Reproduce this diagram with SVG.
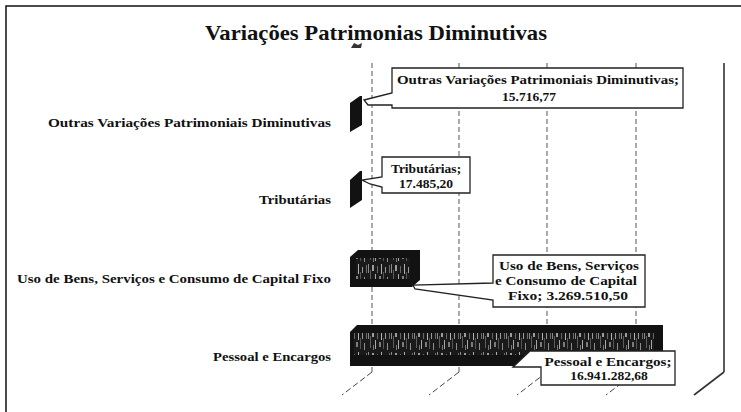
<svg xmlns="http://www.w3.org/2000/svg" width="741" height="412" viewBox="0 0 741 412">
  <defs>
    <pattern id="tex" width="23" height="22" patternUnits="userSpaceOnUse">
      <rect width="23" height="22" fill="#1a1a1a"/>
      <rect x="0" y="0" width="1" height="9" fill="#8a8a8a"/>
      <rect x="2" y="6" width="1" height="12" fill="#5e5e5e"/>
      <rect x="4" y="1" width="2" height="6" fill="#9c9c9c"/>
      <rect x="7" y="10" width="1" height="9" fill="#a8a8a8"/>
      <rect x="9" y="2" width="1" height="7" fill="#666"/>
      <rect x="11" y="12" width="2" height="5" fill="#7c7c7c"/>
      <rect x="13" y="0" width="1" height="10" fill="#b0b0b0"/>
      <rect x="15" y="8" width="1" height="11" fill="#555"/>
      <rect x="17" y="3" width="1" height="6" fill="#999"/>
      <rect x="19" y="13" width="1" height="7" fill="#8f8f8f"/>
      <rect x="21" y="1" width="1" height="8" fill="#6a6a6a"/>
      <rect x="5" y="15" width="1" height="5" fill="#777"/>
    </pattern>
    <style>
      text{font-family:'Liberation Serif','Times New Roman',serif;font-weight:bold;fill:#111}
      .frame{stroke:#111;stroke-width:1.5;fill:none}
      .grid{stroke:#555;stroke-width:1;stroke-dasharray:5 3;fill:none}
      .wall{stroke:#333;stroke-width:1.6;fill:none}
      .floor{stroke:#444;stroke-width:1;stroke-dasharray:6 3;fill:none}
      .bar{fill:#121212}
      .cat{font-size:13px;text-anchor:end}
      .lbl{font-size:13.5px;text-anchor:middle}
      .callout{fill:#fff;stroke:#222;stroke-width:1.3}
      .title{font-size:22px;text-anchor:middle}
    </style>
  </defs>
  <rect width="741" height="412" fill="#fff"/>
  <g id="frame">
    <path class="frame" d="M6,412 V6 H741"/>
  </g>
  <g id="title">
    <text class="title" x="376" y="40" textLength="342" lengthAdjust="spacingAndGlyphs">Variações Patrimonias Diminutivas</text>
    <path d="M351,48 L354,43 L358,45 L362,43 L361,48 Z" fill="#333"/>
  </g>
  <g id="axes">
    <line class="grid" x1="372" y1="63" x2="372" y2="372"/>
    <line class="grid" x1="459" y1="63" x2="459" y2="372"/>
    <line class="grid" x1="547" y1="63" x2="547" y2="372"/>
    <line class="grid" x1="636" y1="63" x2="636" y2="372"/>
    <line class="wall" x1="724" y1="63" x2="724" y2="372"/>
    <line class="floor" x1="372" y1="372" x2="342" y2="395"/>
    <line class="floor" x1="459" y1="372" x2="429" y2="395"/>
    <line class="floor" x1="547" y1="372" x2="517" y2="395"/>
    <line class="floor" x1="636" y1="372" x2="606" y2="395"/>
    <line class="wall" x1="724" y1="372" x2="694" y2="395"/>
  </g>
  <g id="bar-outras">
    <polygon class="bar" points="350,103 360,96 362,96 362,125 350,132"/>
    <text class="cat" x="331" y="127" textLength="283" lengthAdjust="spacingAndGlyphs">Outras Variações Patrimoniais Diminutivas</text>
  </g>
  <g id="bar-tributarias">
    <polygon class="bar" points="350,180 360,171 362,171 362,200 350,208"/>
    <text class="cat" x="331" y="204" textLength="72" lengthAdjust="spacingAndGlyphs">Tributárias</text>
  </g>
  <g id="bar-uso">
    <polygon class="bar" points="350,257 358,250 420,250 420,280 412,287 350,287"/>
    <rect x="356" y="258" width="54" height="21" fill="url(#tex)"/>
    <text class="cat" x="331" y="283" textLength="314" lengthAdjust="spacingAndGlyphs">Uso de Bens, Serviços e Consumo de Capital Fixo</text>
  </g>
  <g id="bar-pessoal">
    <polygon class="bar" points="350,332 357,325 663,325 663,366 350,366"/>
    <rect x="354" y="333" width="300" height="22" fill="url(#tex)"/>
    <text class="cat" x="331" y="361" textLength="118" lengthAdjust="spacingAndGlyphs">Pessoal e Encargos</text>
  </g>
  <g id="connectors">
    <path class="callout" d="M392,68 H683 V108 H392 V105 L368,105 L364,100 L392,93 Z"/>
    <path class="callout" d="M382,157 H470 V193 H382 V187 L370,184 L362,180 L382,177 Z"/>
    <path class="callout" d="M493,255 H645 V307 H493 V300 L415,289 L413,285 L493,283 Z"/>
    <path class="callout" d="M513,367 L530,351 H675 V385 H541 V367 Z"/>
  </g>
  <g id="label-outras">
    <text class="lbl" x="538" y="84" textLength="282" lengthAdjust="spacingAndGlyphs">Outras Variações Patrimoniais Diminutivas;</text>
    <text class="lbl" x="529" y="101">15.716,77</text>
  </g>
  <g id="label-tributarias">
    <text class="lbl" x="426" y="173">Tributárias;</text>
    <text class="lbl" x="426" y="188">17.485,20</text>
  </g>
  <g id="label-uso">
    <text class="lbl" x="569" y="270" textLength="140" lengthAdjust="spacingAndGlyphs">Uso de Bens, Serviços</text>
    <text class="lbl" x="566" y="285" textLength="142" lengthAdjust="spacingAndGlyphs">e Consumo de Capital</text>
    <text class="lbl" x="568" y="300" textLength="120" lengthAdjust="spacingAndGlyphs">Fixo;  3.269.510,50</text>
  </g>
  <g id="label-pessoal">
    <text class="lbl" x="608" y="366" textLength="127" lengthAdjust="spacingAndGlyphs">Pessoal e Encargos;</text>
    <text class="lbl" x="609" y="380">16.941.282,68</text>
  </g>
</svg>
